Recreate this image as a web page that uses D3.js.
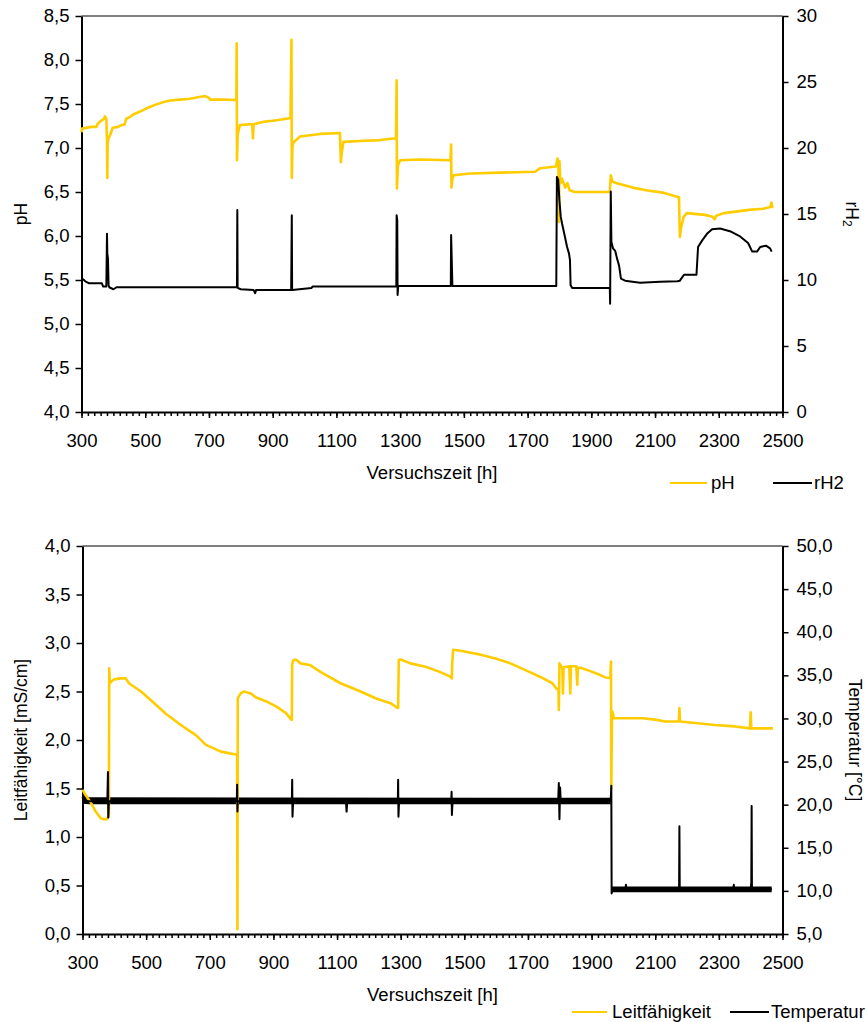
<!DOCTYPE html>
<html>
<head>
<meta charset="utf-8">
<script src="https://cdn.jsdelivr.net/npm/d3@7"></script>
<style>
  html, body { margin: 0; padding: 0; background: #fff; }
  svg { display: block; font-family: "Liberation Sans", Arial, sans-serif; }
  .axis path, .axis line { stroke: #000; }
  .axis text { fill: #000; font-size: 17.5px; }
</style>
</head>
<body>
<svg id="chart" width="866" height="1022"></svg>
<script>
// ---- time axis (hours) ----
const timeDomain = [300, 2500];
const timeTicks = [300, 500, 700, 900, 1100, 1300, 1500, 1700, 1900, 2100, 2300, 2500];

// ---- upper panel: pH (left) and rH2 (right) ----
const phTicks = [4.0, 4.5, 5.0, 5.5, 6.0, 6.5, 7.0, 7.5, 8.0, 8.5];
const rh2Ticks = [0, 5, 10, 15, 20, 25, 30];

const phSeries = [
  [300,7.18],[302,7.22],[330,7.24],[347,7.24],[350,7.27],[358,7.3],[370,7.33],[374,7.36],[378,7.33],
  [380,7.1],[381,6.66],[382,7.05],[384,7.1],[390,7.15],[398,7.23],[415,7.24],[425,7.26],[436,7.27],
  [440,7.33],[455,7.36],[462,7.38],[475,7.4],[493,7.43],[510,7.46],[531,7.49],[555,7.52],[578,7.54],
  [610,7.55],[640,7.56],[656,7.57],[670,7.58],[688,7.59],[700,7.57],[703,7.55],[740,7.55],[786,7.545],
  [787,8.19],[788,6.86],[790,7.15],[797,7.26],[829,7.27],[836,7.27],[838,7.11],[840,7.27],[876,7.3],
  [900,7.31],[939,7.33],[956,7.34],[959,8.23],[960,6.66],[962,7.0],[964,7.06],[986,7.13],[1049,7.16],
  [1111,7.17],[1114,6.84],[1117,6.95],[1122,7.07],[1174,7.08],[1237,7.09],[1287,7.11],[1289,7.77],
  [1290,6.54],[1293,6.8],[1300,6.86],[1362,6.87],[1458,6.86],[1460,7.04],[1461,6.55],[1464,6.65],
  [1468,6.69],[1520,6.71],[1614,6.72],[1724,6.73],[1739,6.77],[1789,6.79],[1794,6.88],[1797,6.8],
  [1798,6.16],[1800,6.85],[1803,6.6],[1808,6.65],[1818,6.55],[1825,6.6],[1832,6.52],[1849,6.5],
  [1900,6.5],[1958,6.5],[1961,6.69],[1966,6.62],[1980,6.6],[2030,6.55],[2072,6.52],[2129,6.49],
  [2166,6.45],[2175,6.44],[2178,5.99],[2182,6.1],[2190,6.22],[2200,6.26],[2257,6.24],[2280,6.22],
  [2287,6.19],[2292,6.23],[2316,6.26],[2359,6.28],[2402,6.3],[2440,6.31],[2462,6.33],[2465,6.38],
  [2468,6.33],[2470,6.34]
];

const rh2Series = [
  [300,10.0],[305,10.05],[312,9.9],[324,9.75],[364,9.75],[368,9.5],[378,9.5],[380,13.5],[381,12.0],
  [383,11.65],[385,9.6],[387,9.45],[400,9.3],[410,9.45],[786,9.45],[788,9.5],[789,15.3],[790,9.4],
  [800,9.3],[840,9.25],[845,9.0],[848,9.25],[958,9.24],[960,14.9],[961,9.24],[1022,9.4],[1025,9.5],
  [1288,9.5],[1289,14.9],[1291,14.5],[1292,8.86],[1294,9.55],[1459,9.55],[1460,13.4],[1462,11.5],
  [1464,9.55],[1790,9.55],[1792,17.8],[1796,17.6],[1800,16.0],[1804,14.8],[1808,14.3],[1817,13.3],
  [1824,12.5],[1830,12.0],[1833,11.5],[1835,9.6],[1840,9.4],[1958,9.4],[1959,8.2],[1961,16.7],
  [1963,12.9],[1968,12.4],[1975,12.2],[1981,11.6],[1987,11.1],[1993,10.1],[2006,9.95],[2053,9.8],
  [2116,9.87],[2170,9.9],[2178,9.95],[2185,10.2],[2191,10.4],[2230,10.4],[2235,12.5],[2248,13.0],
  [2263,13.5],[2279,13.85],[2304,13.9],[2335,13.7],[2367,13.3],[2392,12.8],[2405,12.15],[2420,12.15],
  [2430,12.5],[2448,12.6],[2461,12.4],[2466,12.15]
];

// ---- lower panel: conductivity (left) and temperature (right) ----
const condTicks = [0.0, 0.5, 1.0, 1.5, 2.0, 2.5, 3.0, 3.5, 4.0];
const tempTicks = [5, 10, 15, 20, 25, 30, 35, 40, 45, 50];

const condSeries = [
  [300,1.485],[310,1.43],[327,1.35],[342,1.26],[358,1.19],[374,1.18],[380,1.2],[383,1.23],[384,2.74],
  [386,2.585],[390,2.6],[399,2.625],[420,2.635],[436,2.635],[446,2.585],[484,2.5],[515,2.41],[562,2.27],
  [609,2.155],[656,2.05],[688,1.95],[735,1.88],[782,1.85],[786,1.85],[787,0.05],[788,2.43],[797,2.48],
  [807,2.5],[829,2.48],[844,2.44],[876,2.4],[907,2.35],[939,2.28],[956,2.21],[958,2.21],[959,2.78],
  [962,2.82],[970,2.83],[986,2.79],[1017,2.77],[1049,2.7],[1111,2.585],[1174,2.5],[1221,2.43],
  [1268,2.38],[1290,2.33],[1292,2.33],[1294,2.825],[1300,2.83],[1331,2.79],[1378,2.755],[1425,2.7],
  [1457,2.65],[1461,2.635],[1462,2.79],[1465,2.93],[1488,2.92],[1520,2.9],[1551,2.88],[1598,2.84],
  [1645,2.79],[1692,2.72],[1739,2.65],[1777,2.585],[1789,2.53],[1796,2.52],[1797,2.31],[1799,2.79],
  [1808,2.74],[1810,2.48],[1812,2.75],[1830,2.76],[1833,2.48],[1835,2.76],[1852,2.76],[1855,2.57],
  [1857,2.745],[1865,2.745],[1896,2.71],[1927,2.67],[1943,2.645],[1959,2.64],[1961,2.81],[1962,1.5],
  [1964,2.25],[1966,2.29],[1970,2.225],[2060,2.225],[2100,2.21],[2131,2.19],[2174,2.19],[2176,2.33],
  [2178,2.19],[2241,2.17],[2288,2.155],[2351,2.14],[2398,2.12],[2400,2.285],[2402,2.12],[2470,2.12]
];

const tempSeries = [
  [300,20.9],[305,20.4],[378,20.4],[380,23.8],[381,18.5],[383,20.4],[785,20.4],[786,22.3],[787,19.2],
  [788,20.4],[958,20.4],[959,22.9],[960,18.6],[962,20.4],[1128,20.4],[1130,19.2],[1132,20.4],
  [1291,20.4],[1292,22.9],[1293,18.6],[1295,20.4],[1459,20.4],[1460,21.5],[1461,18.8],[1463,20.4],
  [1795,20.4],[1797,22.5],[1799,18.3],[1801,22.0],[1803,20.4],[1960,20.4],[1962,22.2],[1963,9.7],
  [1966,10.2],[2006,10.2],[2008,10.7],[2010,10.2],[2175,10.2],[2176,17.5],[2177,10.1],[2345,10.2],
  [2347,10.7],[2349,10.2],[2400,10.2],[2402,11.0],[2403,19.85],[2404,10.2],[2466,10.2]
];

// scatter band of the temperature readings: [h, low, high]
const tempBandWarm = [[300,20.1,21.5],[320,20.05,20.85],[1960,20.05,20.8]];
const tempBandCold = [[1963,9.85,10.5],[2466,9.85,10.5]];

// ---------------------------------------------------------------
const YELLOW = "#FFCC00";
const FS = 17.5;       // label size
const WIDEN = 1.06;    // slightly wide lettering for horizontal labels
const svg = d3.select("#chart");
const locale = d3.formatLocale({ decimal: ",", thousands: ".", grouping: [3], currency: ["", " €"] });
const f1 = locale.format(".1f");
const f0 = locale.format("d");

function widen(sel) {
  sel.each(function () {
    const w = this.getComputedTextLength();
    d3.select(this).attr("textLength", w * WIDEN).attr("lengthAdjust", "spacingAndGlyphs");
  });
}

function panel(opt) {
  const x = d3.scaleLinear().domain(timeDomain).range([opt.left, opt.right]);
  const yL = d3.scaleLinear().domain(opt.leftDomain).range([opt.bottom, opt.top]);
  const yR = d3.scaleLinear().domain(opt.rightDomain).range([opt.bottom, opt.top]);
  const g = svg.append("g");

  // frame top
  g.append("line").attr("x1", opt.left).attr("x2", opt.right)
    .attr("y1", opt.top).attr("y2", opt.top).attr("stroke", "#000").attr("stroke-width", 1);

  // minor ticks on time axis
  const minor = d3.range(timeDomain[0], timeDomain[1] + 1, 20);
  g.append("g").attr("class", "axis")
    .attr("transform", `translate(0,${opt.bottom})`)
    .call(d3.axisBottom(x).tickValues(minor).tickSize(4).tickFormat(""))
    .call(s => s.select(".domain").remove())
    .selectAll("line").attr("stroke-width", 1.5);

  const xa = g.append("g").attr("class", "axis")
    .attr("transform", `translate(0,${opt.bottom})`)
    .call(d3.axisBottom(x).tickValues(timeTicks).tickSize(6).tickSizeOuter(0).tickPadding(17).tickFormat(f0));
  xa.select(".domain").attr("stroke-width", 2);
  xa.selectAll("line").attr("stroke-width", 1.5);
  widen(xa.selectAll("text"));

  const ya = g.append("g").attr("class", "axis")
    .attr("transform", `translate(${opt.left},0)`)
    .call(d3.axisLeft(yL).tickValues(opt.leftTicks).tickSize(6).tickSizeOuter(0).tickPadding(6).tickFormat(f1));
  ya.select(".domain").attr("stroke-width", 2);
  ya.selectAll("line").attr("stroke-width", 1.5);
  widen(ya.selectAll("text"));

  const yb = g.append("g").attr("class", "axis")
    .attr("transform", `translate(${opt.right},0)`)
    .call(d3.axisRight(yR).tickValues(opt.rightTicks).tickSize(6).tickSizeOuter(0).tickPadding(8).tickFormat(opt.rightFormat));
  yb.select(".domain").attr("stroke-width", 2);
  yb.selectAll("line").attr("stroke-width", 1.5);
  widen(yb.selectAll("text"));

  // x title
  svg.append("text").attr("x", (opt.left + opt.right) / 2).attr("y", opt.bottom + 67)
    .attr("text-anchor", "middle").attr("font-size", FS).text("Versuchszeit [h]")
    .call(widen);

  return { x, yL, yR, g };
}

// ---------------- upper panel ----------------
const upper = panel({
  left: 81.5, right: 782.5, top: 16, bottom: 412,
  leftDomain: [4, 8.5], rightDomain: [0, 30],
  leftTicks: phTicks, rightTicks: rh2Ticks, rightFormat: f0
});

upper.g.append("path").datum(phSeries)
  .attr("fill", "none").attr("stroke", YELLOW).attr("stroke-width", 2.6).attr("stroke-linejoin", "round")
  .attr("d", d3.line().x(d => upper.x(d[0])).y(d => upper.yL(d[1])));
upper.g.append("path").datum(rh2Series)
  .attr("fill", "none").attr("stroke", "#000").attr("stroke-width", 2).attr("stroke-linejoin", "round")
  .attr("d", d3.line().x(d => upper.x(d[0])).y(d => upper.yR(d[1])));

svg.append("text").attr("transform", "translate(27,214) rotate(-90)")
  .attr("text-anchor", "middle").attr("font-size", FS).text("pH");
const rt = svg.append("text").attr("transform", "translate(846,214) rotate(90)")
  .attr("text-anchor", "middle").attr("font-size", FS);
rt.append("tspan").text("rH");
rt.append("tspan").attr("font-size", 12).attr("dy", 3).text("2");

// legend upper
const legTop = svg.append("g");
legTop.append("line").attr("x1", 670).attr("x2", 707).attr("y1", 483).attr("y2", 483).attr("stroke", YELLOW).attr("stroke-width", 2);
legTop.append("text").attr("x", 711).attr("y", 489).attr("font-size", FS).text("pH").call(widen);
legTop.append("line").attr("x1", 773).attr("x2", 812).attr("y1", 483).attr("y2", 483).attr("stroke", "#000").attr("stroke-width", 2);
legTop.append("text").attr("x", 814).attr("y", 489).attr("font-size", FS).text("rH2").call(widen);

// ---------------- lower panel ----------------
const lower = panel({
  left: 82.5, right: 782.5, top: 546, bottom: 934,
  leftDomain: [0, 4], rightDomain: [5, 50],
  leftTicks: condTicks, rightTicks: tempTicks, rightFormat: f1
});

const band = d3.area().x(d => lower.x(d[0])).y0(d => lower.yR(d[1])).y1(d => lower.yR(d[2]));
lower.g.append("path").datum(tempBandWarm).attr("fill", "#000").attr("d", band);
lower.g.append("path").datum(tempBandCold).attr("fill", "#000").attr("d", band);

lower.g.append("path").datum(condSeries)
  .attr("fill", "none").attr("stroke", YELLOW).attr("stroke-width", 2.6).attr("stroke-linejoin", "round")
  .attr("d", d3.line().x(d => lower.x(d[0])).y(d => lower.yL(d[1])));
lower.g.append("path").datum(tempSeries)
  .attr("fill", "none").attr("stroke", "#000").attr("stroke-width", 2).attr("stroke-linejoin", "round")
  .attr("d", d3.line().x(d => lower.x(d[0])).y(d => lower.yR(d[1])));

svg.append("text").attr("transform", "translate(27,740) rotate(-90)")
  .attr("text-anchor", "middle").attr("font-size", FS).text("Leitfähigkeit [mS/cm]");
svg.append("text").attr("transform", "translate(849,740) rotate(90)")
  .attr("text-anchor", "middle").attr("font-size", FS).text("Temperatur [°C]");

const legBot = svg.append("g");
legBot.append("line").attr("x1", 572).attr("x2", 607).attr("y1", 1012).attr("y2", 1012).attr("stroke", YELLOW).attr("stroke-width", 2);
legBot.append("text").attr("x", 612).attr("y", 1018).attr("font-size", FS).text("Leitfähigkeit").call(widen);
legBot.append("line").attr("x1", 730).attr("x2", 769).attr("y1", 1012).attr("y2", 1012).attr("stroke", "#000").attr("stroke-width", 2);
legBot.append("text").attr("x", 771).attr("y", 1018).attr("font-size", FS).text("Temperatur").call(widen);
</script>
</body>
</html>
